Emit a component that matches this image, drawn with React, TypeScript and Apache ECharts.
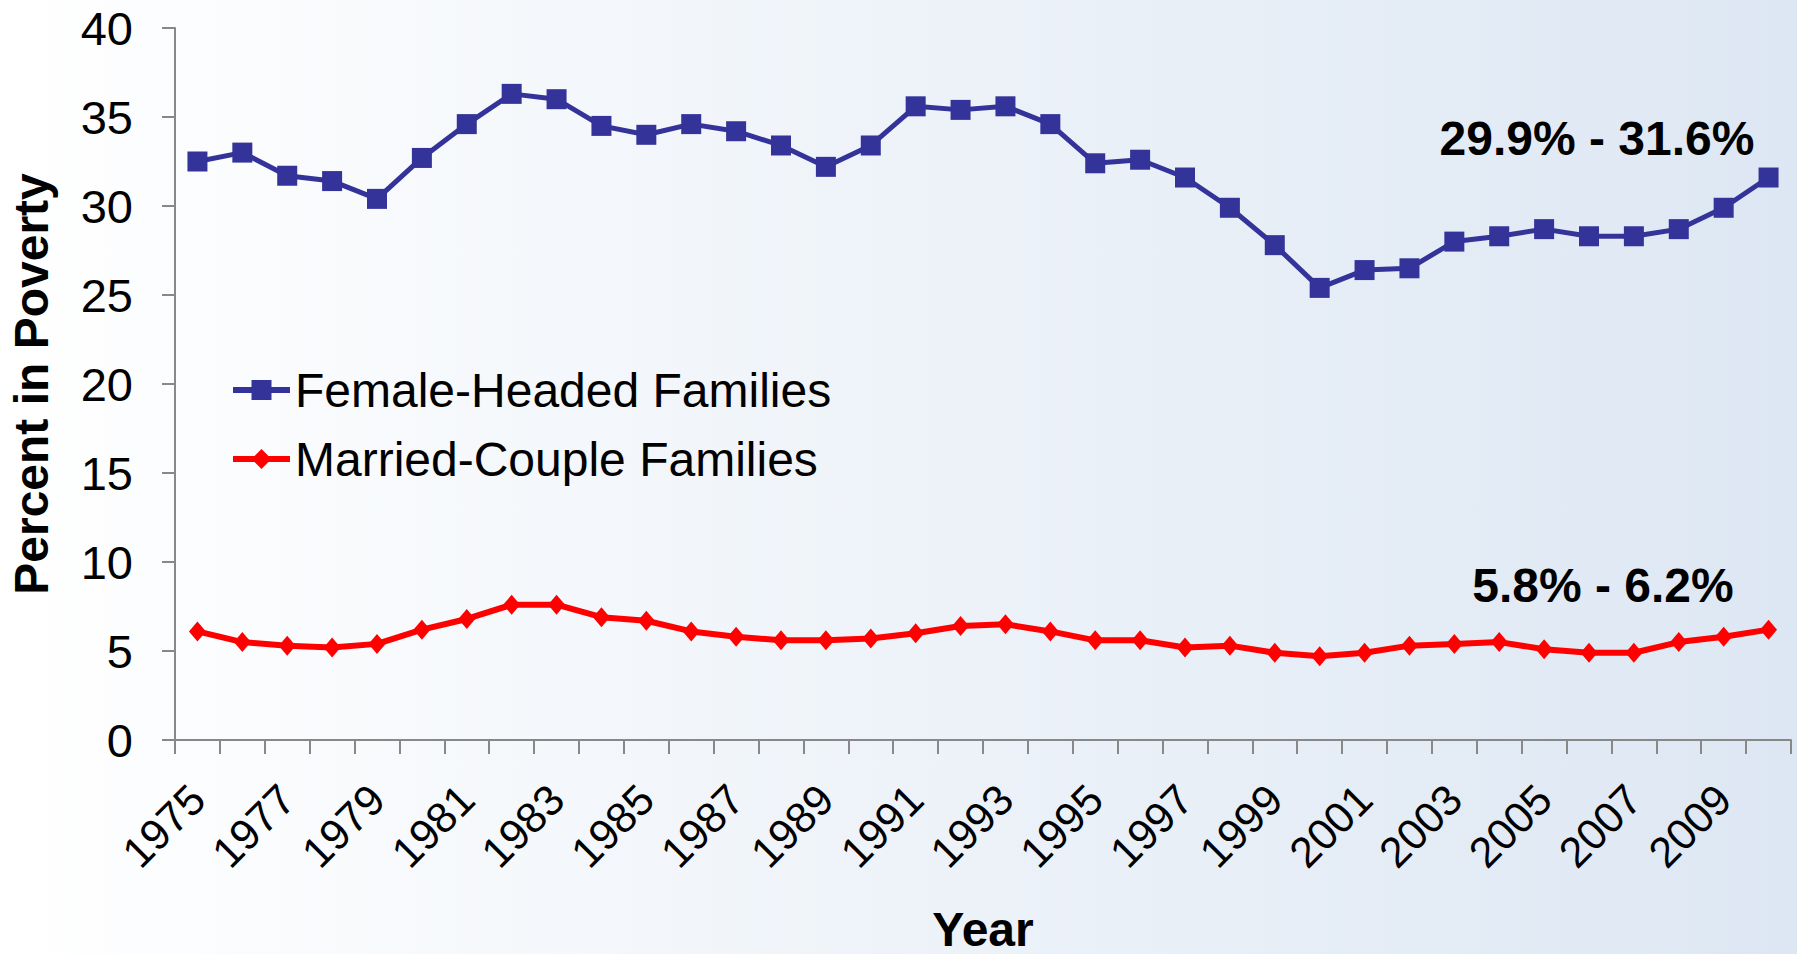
import React, { useEffect, useRef } from "react";
import * as echarts from "echarts";

const years = [
  "1975","1976","1977","1978","1979","1980","1981","1982","1983","1984",
  "1985","1986","1987","1988","1989","1990","1991","1992","1993","1994",
  "1995","1996","1997","1998","1999","2000","2001","2002","2003","2004",
  "2005","2006","2007","2008","2009","2010",
];

const femaleHeaded = [
  32.5, 33.0, 31.7, 31.4, 30.4, 32.7, 34.6, 36.3, 36.0, 34.5,
  34.0, 34.6, 34.2, 33.4, 32.2, 33.4, 35.6, 35.4, 35.6, 34.6,
  32.4, 32.6, 31.6, 29.9, 27.8, 25.4, 26.4, 26.5, 28.0, 28.3,
  28.7, 28.3, 28.3, 28.7, 29.9, 31.6,
];

const marriedCouple = [
  6.1, 5.5, 5.3, 5.2, 5.4, 6.2, 6.8, 7.6, 7.6, 6.9,
  6.7, 6.1, 5.8, 5.6, 5.6, 5.7, 6.0, 6.4, 6.5, 6.1,
  5.6, 5.6, 5.2, 5.3, 4.9, 4.7, 4.9, 5.3, 5.4, 5.5,
  5.1, 4.9, 4.9, 5.5, 5.8, 6.2,
];

const seriesNames = ["Female-Headed Families", "Married-Couple Families"];
const annotations = ["29.9% - 31.6%", "5.8% - 6.2%"];

const FONT = "'Liberation Sans', Arial, sans-serif";

export default function App() {
  const ref = useRef<HTMLDivElement>(null);

  useEffect(() => {
    if (!ref.current) return;
    const chart = echarts.init(ref.current, undefined, { renderer: "svg" });
    chart.setOption({
      animation: false,
      backgroundColor: {
        type: "linear",
        x: 0,
        y: 0,
        x2: 1,
        y2: 0,
        colorStops: [
          { offset: 0, color: "#ffffff" },
          { offset: 1, color: "#dde7f3" },
        ],
      },
      textStyle: { fontFamily: FONT },
      grid: {
        left: 175,
        right: 6,
        top: 28,
        bottom: 214,
        containLabel: false,
        outerBoundsMode: "none",
      },
      legend: {
        orient: "vertical",
        left: 225,
        top: 361,
        itemWidth: 57,
        itemHeight: 25,
        itemGap: 21,
        data: seriesNames,
        lineStyle: { width: 6 },
        textStyle: { fontSize: 48, color: "#000", fontFamily: FONT },
      },
      xAxis: {
        type: "category",
        data: years,
        boundaryGap: true,
        name: "Year",
        nameLocation: "middle",
        nameGap: 165,
        nameTextStyle: { fontSize: 48, fontWeight: "bold", color: "#000", fontFamily: FONT },
        axisLine: { show: true, lineStyle: { color: "#888888", width: 2 } },
        axisTick: { show: true, interval: 0, length: 14, lineStyle: { color: "#888888", width: 2 } },
        axisLabel: {
          interval: 1,
          rotate: 45,
          margin: 52,
          fontSize: 43,
          color: "#000",
          fontFamily: FONT,
        },
        splitLine: { show: false },
      },
      yAxis: {
        type: "value",
        min: 0,
        max: 40,
        interval: 5,
        name: "Percent in Poverty",
        nameLocation: "middle",
        nameGap: 120,
        nameTextStyle: { fontSize: 48, fontWeight: "bold", color: "#000", fontFamily: FONT },
        axisLine: { show: true, lineStyle: { color: "#888888", width: 2 } },
        axisTick: { show: true, length: 13, lineStyle: { color: "#888888", width: 2 } },
        axisLabel: { margin: 42, fontSize: 47, color: "#000", fontFamily: FONT },
        splitLine: { show: false },
      },
      series: [
        {
          name: seriesNames[0],
          type: "line",
          data: femaleHeaded,
          symbol: "rect",
          symbolSize: 20,
          color: "#333399",
          lineStyle: { color: "#333399", width: 5 },
          itemStyle: { color: "#333399" },
        },
        {
          name: seriesNames[1],
          type: "line",
          data: marriedCouple,
          symbol: "diamond",
          symbolSize: [17, 20],
          color: "#ff0000",
          lineStyle: { color: "#ff0000", width: 6 },
          itemStyle: { color: "#ff0000" },
        },
      ],
      graphic: [
        {
          type: "text",
          x: 1597,
          y: 138,
          style: {
            text: annotations[0],
            font: `bold 48px ${FONT}`,
            fill: "#000",
            textAlign: "center",
            textVerticalAlign: "middle",
          },
        },
        {
          type: "text",
          x: 1603,
          y: 585,
          style: {
            text: annotations[1],
            font: `bold 48px ${FONT}`,
            fill: "#000",
            textAlign: "center",
            textVerticalAlign: "middle",
          },
        },
      ],
    });
    return () => chart.dispose();
  }, []);

  return (
    <div
      ref={ref}
      style={{ position: "absolute", left: 0, top: 0, width: 1797, height: 954 }}
    />
  );
}
